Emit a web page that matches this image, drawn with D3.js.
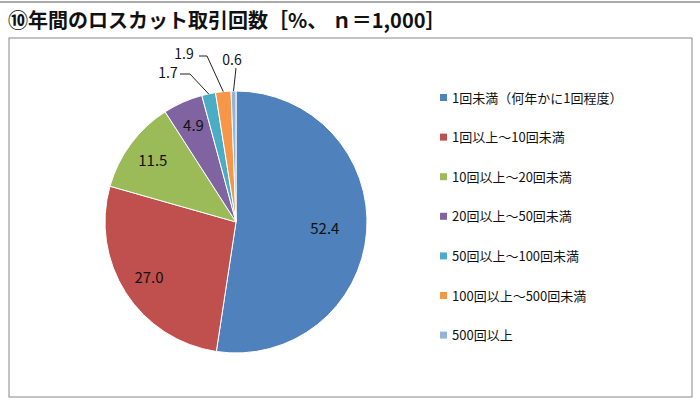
<!DOCTYPE html>
<html lang="ja">
<head>
<meta charset="utf-8">
<script src="https://cdn.jsdelivr.net/npm/d3@7"></script>
<style>
  body { margin: 0; background: #fff; }
  svg { font-family: "Noto Sans CJK JP", "Noto Sans", sans-serif; }
</style>
</head>
<body>
<svg id="chart" width="700" height="407"></svg>
<script>
var categories = ["1回未満（何年かに1回程度）", "1回以上～10回未満", "10回以上～20回未満",
                  "20回以上～50回未満", "50回以上～100回未満", "100回以上～500回未満", "500回以上"];
var values = [52.4, 27.0, 11.5, 4.9, 1.7, 1.9, 0.6];
var colors = ["#4F81BD", "#C0504D", "#9BBB59", "#8064A2", "#4BACC6", "#F79646", "#95B3D7"];

var svg = d3.select("#chart");
var cx = 236, cy = 222, r = 131;

// top rule + title
svg.append("line").attr("x1", 0).attr("x2", 700).attr("y1", 2).attr("y2", 2)
    .attr("stroke", "#aaa").attr("stroke-width", 2);
svg.append("text").attr("x", 8).attr("y", 28)
    .attr("font-size", 20).attr("font-weight", "bold").attr("fill", "#111")
    .text("⑩年間のロスカット取引回数［%、 ｎ＝1,000］");

// chart frame
svg.append("rect").attr("x", 9).attr("y", 38).attr("width", 683).attr("height", 359)
    .attr("fill", "none").attr("stroke", "#888").attr("stroke-width", 1);

var pie = d3.pie().sort(null).value(function(d){ return d; });
var arcs = pie(values);
var arc = d3.arc().innerRadius(0).outerRadius(r);
// label radius per slice (fraction of r)
var labelK = [0.68, 0.79, 0.79, 0.8];

var g = svg.append("g").attr("transform", "translate(" + cx + "," + cy + ")");
g.selectAll("path").data(arcs).enter().append("path")
    .attr("d", arc)
    .attr("fill", function(d, i){ return colors[i]; })
    .attr("stroke", "#fff").attr("stroke-width", 1);

// inside labels for the big slices
g.selectAll("text.in").data(arcs.slice(0, 4)).enter().append("text")
    .attr("class", "in")
    .attr("transform", function(d, i){
        var k = labelK[i] * r;
        var c = d3.arc().innerRadius(k).outerRadius(k).centroid(d);
        return "translate(" + c + ")";
    })
    .attr("text-anchor", "middle").attr("dy", "0.35em")
    .attr("font-size", 15).attr("fill", "#111")
    .text(function(d){ return d3.format(".1f")(d.data); });

// outside labels with leader lines (small slices)
var outside = [
    { i: 4, lx: -68, ly: -149, path: [[-56, -148], [-46, -148]] },
    { i: 5, lx: -52, ly: -168, path: [[-37, -166], [-29, -166]] },
    { i: 6, lx: -4,  ly: -162, path: [[0, -154]] }
];
outside.forEach(function(o){
    var a = arcs[o.i];
    var mid = (a.startAngle + a.endAngle) / 2;
    var edge = [Math.sin(mid) * r, -Math.cos(mid) * r];
    g.append("path")
        .attr("d", d3.line()(o.path.concat([edge])))
        .attr("fill", "none").attr("stroke", "#222").attr("stroke-width", 1);
    g.append("text").attr("x", o.lx).attr("y", o.ly)
        .attr("text-anchor", "middle").attr("dy", "0.35em")
        .attr("font-size", 14).attr("fill", "#111")
        .text(d3.format(".1f")(values[o.i]));
});

// legend
var legend = svg.append("g").attr("transform", "translate(440,98)");
var rows = legend.selectAll("g").data(categories).enter().append("g")
    .attr("transform", function(d, i){ return "translate(0," + (i * 39.6) + ")"; });
rows.append("rect").attr("x", 0).attr("y", -4).attr("width", 7).attr("height", 7)
    .attr("fill", function(d, i){ return colors[i]; });
rows.append("text").attr("x", 12).attr("dy", "0.35em")
    .attr("font-size", 13).attr("fill", "#111")
    .text(function(d){ return d; });
</script>
</body>
</html>
